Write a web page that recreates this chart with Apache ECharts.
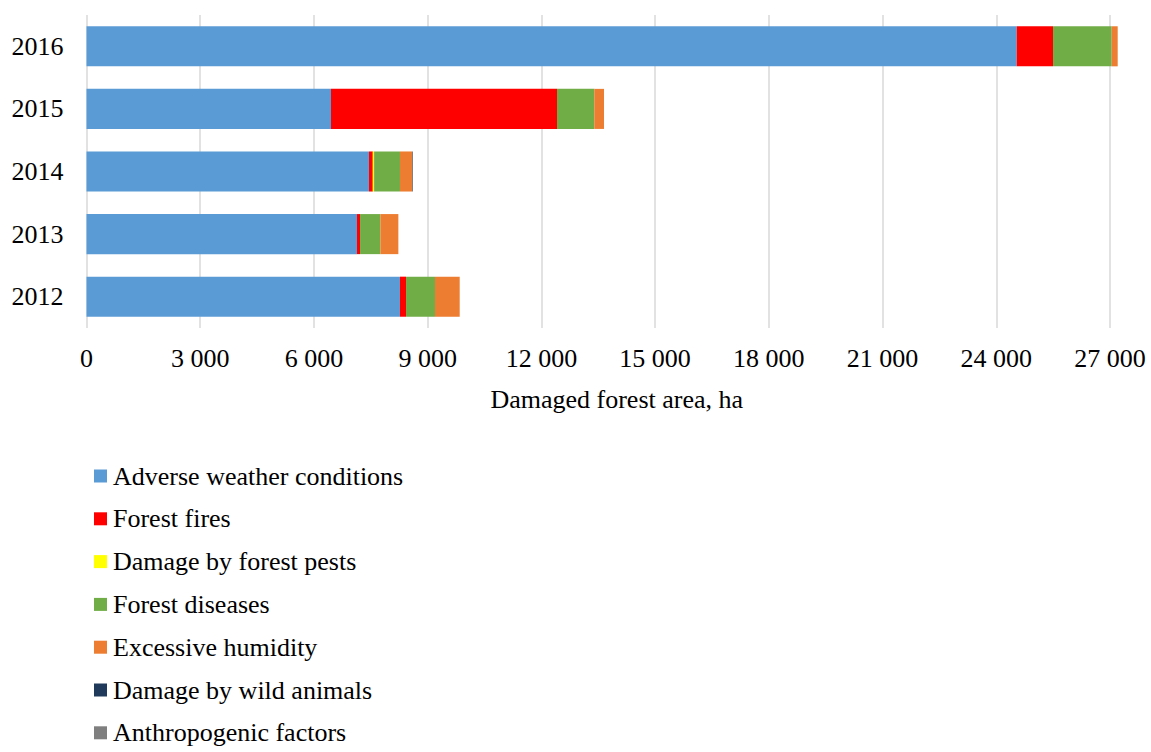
<!DOCTYPE html>
<html>
<head>
<meta charset="utf-8">
<script src="https://cdn.jsdelivr.net/npm/echarts@6/dist/echarts.min.js"></script>
<style>
  html, body { margin: 0; padding: 0; background: #fff; }
  #chart { width: 1151px; height: 752px; }
</style>
</head>
<body>
<div id="chart"></div>
<script>
const YEARS = ["2012", "2013", "2014", "2015", "2016"];

const SERIES_NAMES = [
  "Adverse weather conditions",
  "Forest fires",
  "Damage by forest pests",
  "Forest diseases",
  "Excessive humidity",
  "Damage by wild animals",
  "Anthropogenic factors",
];

const SERIES_COLORS = ["#5B9BD5", "#FF0000", "#FFFF00", "#70AD47", "#ED7D31", "#1F3A5A", "#7F7F7F"];

// values in ha, 2012..2016
const weather = [8270, 7136, 7452, 6450, 24539];
const fires = [159, 80, 100, 5962, 958];
const pests = [0, 0, 35, 0, 0];
const diseases = [764, 536, 683, 984, 1548];
const humidity = [652, 475, 317, 256, 158];
const animals = [0, 0, 0, 0, 0];
const anthropogenic = [0, 0, 26, 0, 0];

const SERIES_VALUES = [weather, fires, pests, diseases, humidity, animals, anthropogenic];

const X_MAX = 27000;
const X_STEP = 3000;

const FONT = "Liberation Serif";
const FONT_SIZE = 26;

function formatThousands(value) {
  return String(value).replace(/\B(?=(\d{3})+(?!\d))/g, " ");
}

const chart = echarts.init(document.getElementById("chart"), undefined, { renderer: "svg" });

chart.setOption({
  animation: false,
  textStyle: { fontFamily: FONT, color: "#000" },
  grid: { top: 15, left: 86.5, right: 41, height: 313, containLabel: false },
  legend: {
    orient: "vertical",
    left: 89,
    top: 458,
    height: 400,
    itemWidth: 13,
    itemHeight: 13,
    itemGap: 16.8,
    icon: "rect",
    selectedMode: false,
    textStyle: { fontFamily: FONT, fontSize: FONT_SIZE, color: "#000", lineHeight: 24, padding: [0, 0, 0, 1] },
    data: SERIES_NAMES,
  },
  xAxis: {
    type: "value",
    min: 0,
    max: X_MAX,
    interval: X_STEP,
    axisLine: { show: false },
    axisTick: { show: false },
    axisLabel: {
      fontFamily: FONT,
      fontSize: FONT_SIZE,
      color: "#000",
      margin: 17,
      formatter: formatThousands,
    },
    splitLine: { show: true, lineStyle: { color: "#D9D9D9", width: 1.5 } },
    name: "Damaged forest area, ha",
    nameLocation: "middle",
    nameGap: 58,
    nameTextStyle: { fontFamily: FONT, fontSize: FONT_SIZE, color: "#000", padding: [0, 0, 0, 37] },
  },
  yAxis: {
    type: "category",
    data: YEARS,
    axisLine: { show: false },
    axisTick: { show: false },
    axisLabel: { fontFamily: FONT, fontSize: FONT_SIZE, color: "#000", margin: 23 },
  },
  series: SERIES_NAMES.map((name, i) => ({
    name,
    type: "bar",
    stack: "total",
    clip: false,
    barCategoryGap: "36%",
    itemStyle: { color: SERIES_COLORS[i] },
    data: SERIES_VALUES[i],
  })),
});
</script>
</body>
</html>
